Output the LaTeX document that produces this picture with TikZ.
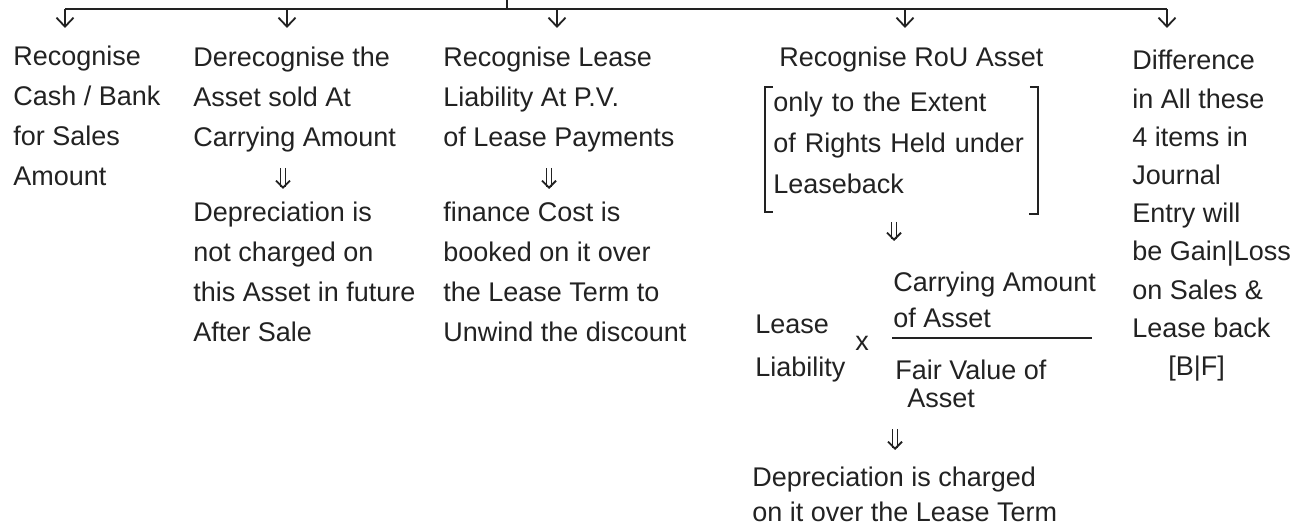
\documentclass[tikz,border=0pt]{standalone}
\usepackage{fontspec}
\setmainfont{Liberation Sans}
\usetikzlibrary{arrows.meta}
\definecolor{ink}{HTML}{222222}
\begin{document}
\begin{tikzpicture}[x=0.5pt,y=-0.5pt,
  txt/.style={anchor=north west, inner sep=0pt, align=left, text=ink, font=\fontsize{13.5}{20}\selectfont},
  barline/.style={draw=ink, line width=1.3pt},
  arr/.style={draw=ink, line width=0.9pt, -{Straight Barb[length=4.5pt,width=8.5pt]}},
  dbl/.style={draw=ink, double=white, double distance=1.8pt, line width=0.7pt, -{Straight Barb[length=3.5pt,width=7pt,line width=0.9pt]}},
  brk/.style={draw=ink, line width=0.9pt},
  ]
\useasboundingbox (0,0) rectangle (1296,528);
% top connector bar
\coordinate (top) at (507,0);
\coordinate (bj) at (507,9);
\coordinate (b1) at (65,9);
\coordinate (b2) at (287,9);
\coordinate (b3) at (557,9);
\coordinate (b4) at (905,9);
\coordinate (b5) at (1167,9);
\coordinate (t1) at (65,28);
\coordinate (t2) at (287,28);
\coordinate (t3) at (557,28);
\coordinate (t4) at (905,28);
\coordinate (t5) at (1167,28);
\draw[barline] (top) -- (bj);
\draw[barline] (b1) -- (b5);
\foreach \i in {1,...,5} \draw[arr] (b\i) -- (t\i);

% column 1
\node[txt] (c1) at (13,46) {Recognise\\Cash / Bank\\for Sales\\Amount};
% column 2
\node[txt] (c2a) at (193,47) {Derecognise the\\Asset sold At\\Carrying Amount};
\node[txt] (c2b) at (193,202) {Depreciation is\\not charged on\\this Asset in future\\After Sale};
% column 3
\node[txt] (c3a) at (443,47) {Recognise Lease\\Liability At P.V.\\of Lease Payments};
\node[txt] (c3b) at (443,202) {finance Cost is\\booked on it over\\the Lease Term to\\Unwind the discount};
% column 4
\node[txt] (c4a) at (779,47) {Recognise RoU Asset};
\node[txt, text width=128pt, inner xsep=4pt, font=\fontsize{13.5}{20.5}\selectfont] (c4b) at (765,92) {only to the Extent\\of Rights Held under\\Leaseback};
\draw[brk] ([shift={(8,-5)}]c4b.north west) -- ([shift={(0,-5)}]c4b.north west) -- ([shift={(0,17)}]c4b.south west) -- ++(8,0);
\draw[brk] ([shift={(-8,-5)}]c4b.north east) -- ([shift={(0,-5)}]c4b.north east) -- ([shift={(0,19)}]c4b.south east) -- ++(-9,0);
\node[txt, font=\fontsize{13.5}{21.5}\selectfont] (ll) at (755,315) {Lease\\Liability};
\node[anchor=center, inner sep=0pt, text=ink, font=\fontsize{13.5}{16}\selectfont] (times) at (862,343) {x};
\node[txt, font=\fontsize{13.5}{18}\selectfont] (num) at (893,272) {Carrying Amount\\of Asset};
\node[txt, font=\fontsize{13.5}{14}\selectfont] (den) at (895,360) {Fair Value of\\\hspace*{6pt}Asset};
\draw[barline] (892,338) -- (1092,338);
\node[txt, font=\fontsize{13.5}{17.5}\selectfont] (c4c) at (752,467) {Depreciation is charged\\on it over the Lease Term};
% column 5
\node[txt, font=\fontsize{13.5}{19.1}\selectfont] (c5) at (1132,50) {Difference\\in All these\\4 items in\\Journal\\Entry will\\be Gain|Loss\\on Sales \&\\Lease back\\\hspace*{18pt}[B|F]};

% double arrows
\coordinate (d1s) at (283,168);
\coordinate (d1e) at (283,189);
\coordinate (d2s) at (549,168);
\coordinate (d2e) at (549,189);
\coordinate (d3s) at (894,222);
\coordinate (d3e) at (894,241);
\coordinate (d4s) at (895,429);
\coordinate (d4e) at (895,450);
\draw[dbl] (d1s) -- (d1e);
\draw[dbl] (d2s) -- (d2e);
\draw[dbl] (d3s) -- (d3e);
\draw[dbl] (d4s) -- (d4e);
\end{tikzpicture}
\end{document}
